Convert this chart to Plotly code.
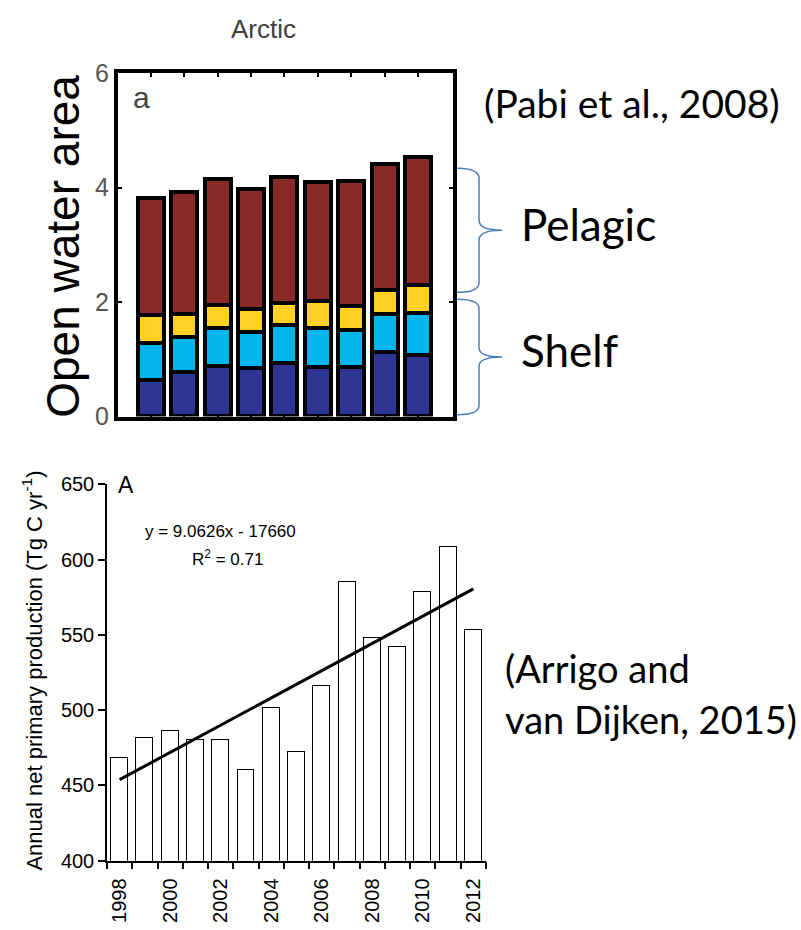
import numpy as np
import plotly.graph_objects as go

# ---- Arctic open water area by sub-region (Pabi et al., 2008) ----
years_top = [1998, 1999, 2000, 2001, 2002, 2003, 2004, 2005, 2006]
shelf_inner = [0.64, 0.77, 0.88, 0.84, 0.94, 0.86, 0.86, 1.13, 1.08]
shelf_mid = [0.64, 0.61, 0.67, 0.63, 0.65, 0.68, 0.65, 0.66, 0.73]
shelf_outer = [0.49, 0.41, 0.40, 0.41, 0.39, 0.48, 0.42, 0.42, 0.48]
pelagic = [2.04, 2.13, 2.19, 2.09, 2.21, 2.07, 2.18, 2.20, 2.24]
segment_colors = ["#2F3592", "#00B5EC", "#FDD124", "#8A2A26"]
top_yticks = [0, 2, 4, 6]

# ---- Annual net primary production (Arrigo and van Dijken, 2015) ----
years_npp = list(range(1998, 2013))
npp = [468, 481, 486, 480, 480, 460, 501, 472, 516, 585, 548, 542, 578, 608, 553]
npp_ticks = [1998, 2000, 2002, 2004, 2006, 2008, 2010, 2012]

W, H = 801, 930


def px(x):
    return x / W


def py(y):
    return 1 - y / H


fig = go.Figure()

# stacked bars, each segment outlined in heavy black
for vals, col in zip([shelf_inner, shelf_mid, shelf_outer, pelagic], segment_colors):
    fig.add_trace(go.Bar(
        x=years_top, y=vals, width=0.78,
        marker=dict(color=col, line=dict(color="black", width=4)),
        xaxis="x", yaxis="y", showlegend=False, hoverinfo="skip",
    ))

# NPP bars + least-squares trend
fig.add_trace(go.Bar(
    x=years_npp, y=npp, width=0.67,
    marker=dict(color="white", line=dict(color="black", width=1.5)),
    xaxis="x2", yaxis="y2", showlegend=False,
))
slope, intercept = np.polyfit(years_npp, npp, 1)
trend_x = [years_npp[0], years_npp[-1]]
trend_y = [slope * x + intercept for x in trend_x]
fig.add_trace(go.Scatter(
    x=trend_x, y=trend_y, mode="lines",
    line=dict(color="black", width=3),
    xaxis="x2", yaxis="y2", showlegend=False,
))

arial = "Liberation Sans, Arial, sans-serif"
calibri = "Lato, Carlito, sans-serif"

fig.update_layout(
    width=W, height=H,
    margin=dict(l=0, r=0, t=0, b=0),
    paper_bgcolor="white", plot_bgcolor="white",
    barmode="stack",
    bargap=0,
    xaxis=dict(
        domain=[px(118), px(453)], range=[1997.02, 2007.05],
        showline=True, linewidth=4, linecolor="black", mirror="allticks",
        tickvals=years_top, ticks="inside", ticklen=4, tickwidth=2,
        tickcolor="black", showticklabels=False, showgrid=False,
        zeroline=False, layer="below traces",
    ),
    yaxis=dict(
        domain=[py(415), py(61)], range=[0, 6],
        showline=True, linewidth=4, linecolor="black", mirror="allticks",
        tickvals=top_yticks, ticks="inside", ticklen=4, tickwidth=2,
        tickcolor="black", showgrid=False, zeroline=False,
        tickfont=dict(family=arial, size=25, color="#555555"),
    ),
    xaxis2=dict(
        domain=[px(107), px(486)], range=[1997.5, 2012.5], anchor="y2",
        showline=True, linewidth=1.5, linecolor="black",
        tickmode="array", tickvals=npp_ticks, ticktext=[str(t) for t in npp_ticks],
        ticks="outside", ticklen=8, tickcolor="rgba(0,0,0,0)",
        tickangle=-90, tickfont=dict(family=arial, size=20, color="black"),
        minor=dict(tickmode="linear", tick0=1997.5, dtick=1, ticks="outside",
                   ticklen=7, tickwidth=1.5, tickcolor="black", showgrid=False),
        showgrid=False, zeroline=False,
    ),
    yaxis2=dict(
        domain=[py(873), py(485)], range=[400, 650], anchor="x2",
        showline=True, linewidth=1.5, linecolor="black",
        tickvals=[400, 450, 500, 550, 600, 650], ticks="outside", ticklen=7,
        tickwidth=1.5, tickcolor="black", showgrid=False, zeroline=False,
        tickfont=dict(family=arial, size=20, color="black"),
    ),
)

ann = []
# top panel texts
ann.append(dict(text="Arctic", x=px(263), y=py(15), xref="paper", yref="paper",
                showarrow=False, xanchor="center", yanchor="middle",
                font=dict(family=arial, size=26, color="#404040")))
ann.append(dict(text="a", x=px(131), y=py(86), xref="paper", yref="paper",
                showarrow=False, xanchor="left", yanchor="middle",
                font=dict(family=arial, size=30, color="#444444")))
ann.append(dict(text="Open water area", x=px(63), y=py(240), xref="paper", yref="paper",
                showarrow=False, textangle=-90, xanchor="center", yanchor="middle",
                font=dict(family=arial, size=46, color="black")))
ann.append(dict(text="(Pabi et al., 2008)", x=px(482), y=py(92), xref="paper", yref="paper",
                showarrow=False, xanchor="left", yanchor="middle",
                font=dict(family=calibri, size=39, color="black")))
ann.append(dict(text="Pelagic", x=px(519), y=py(217), xref="paper", yref="paper",
                showarrow=False, xanchor="left", yanchor="middle",
                font=dict(family=calibri, size=44, color="black")))
ann.append(dict(text="Shelf", x=px(519), y=py(346), xref="paper", yref="paper",
                showarrow=False, xanchor="left", yanchor="middle",
                font=dict(family=calibri, size=44, color="black")))

# bottom panel texts
ann.append(dict(text="A", x=px(116), y=py(486), xref="paper", yref="paper",
                showarrow=False, xanchor="left", yanchor="middle",
                font=dict(family=arial, size=23, color="black")))
ann.append(dict(text="y = 9.0626x - 17660", x=px(220), y=py(534), xref="paper", yref="paper",
                showarrow=False, xanchor="center", yanchor="middle",
                font=dict(family=arial, size=17, color="black")))
ann.append(dict(text="R<sup>2</sup> = 0.71", x=px(228), y=py(561), xref="paper", yref="paper",
                showarrow=False, xanchor="center", yanchor="middle",
                font=dict(family=arial, size=17, color="black")))
ann.append(dict(text="Annual net primary production (Tg C yr<sup>-1</sup>)",
                x=px(32), y=py(677), xref="paper", yref="paper",
                showarrow=False, textangle=-90, xanchor="center", yanchor="middle",
                font=dict(family=arial, size=22, color="black")))
ann.append(dict(text="(Arrigo and", x=px(503), y=py(674), xref="paper", yref="paper",
                showarrow=False, xanchor="left", yanchor="middle",
                font=dict(family=calibri, size=38, color="black")))
ann.append(dict(text="van Dijken, 2015)", x=px(503), y=py(727), xref="paper", yref="paper",
                showarrow=False, xanchor="left", yanchor="middle",
                font=dict(family=calibri, size=38, color="black")))
fig.update_layout(annotations=ann)


# curly braces beside the top panel, spanning shelf and pelagic ranges
def brace(y0, y1, x_end=457, x_spine=479, x_tip=502):
    ym = (y0 + y1) / 2
    r = (y1 - y0) * 0.08
    a, s, t = px(x_end), px(x_spine), px(x_tip)
    return (f"M {a},{y1} Q {s},{y1} {s},{y1 - r} L {s},{ym + r} "
            f"Q {s},{ym} {t},{ym} Q {s},{ym} {s},{ym - r} "
            f"L {s},{y0 + r} Q {s},{y0} {a},{y0}")


brace_ranges = [(0.03, 2.05), (2.17, 4.34)]
fig.update_layout(shapes=[
    dict(type="path", path=brace(lo, hi), xref="paper", yref="y",
         line=dict(color="#4A7EBB", width=1.5))
    for lo, hi in brace_ranges
])

fig.write_html("out.html")
